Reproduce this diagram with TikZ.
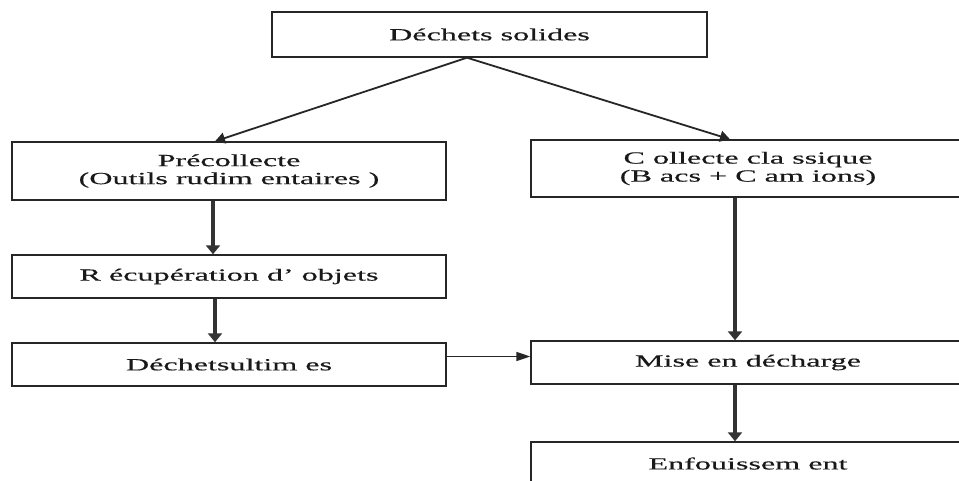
\documentclass[tikz,border=0pt]{standalone}
\usepackage{fontspec}
\setmainfont[FakeStretch=1.89,FakeBold=0.4]{Liberation Serif}
\usetikzlibrary{arrows.meta,calc}
\begin{document}
\begin{tikzpicture}[x=1pt,y=-1pt,
  box/.style={draw=black!85,line width=1.4pt,rectangle,inner sep=0pt,
    align=center,font=\fontsize{17}{18}\selectfont,text=black!90},
  thick arrow/.style={draw=black!80,line width=3.2pt,-{Triangle[width=14pt,length=9pt]}},
  diag arrow/.style={draw=black!85,line width=1.8pt,-{Triangle[width=11pt,length=10pt]}},
  flat arrow/.style={draw=black!85,line width=1.5pt,-{Triangle[width=9pt,length=14pt]}}]
\useasboundingbox (0,0) rectangle (959,480);
\clip (0,0) rectangle (959,480);
\fill[white] (0,0) rectangle (959,480);
\node[box,minimum width=435pt,minimum height=45pt] (top) at (489.5,34.5) {Déchets solides};
\node[box,minimum width=434pt,minimum height=58pt] (pre) at (229,171) {Précollecte\\(Outils rudim entaires )};
\node[box,minimum width=434pt,minimum height=57pt] (col) at (748,168.5) {C ollecte cla ssique\\(B acs + C am ions)};
\node[box,minimum width=434pt,minimum height=43pt] (rec) at (229,276.5) {R écupération d’ objets};
\node[box,minimum width=434pt,minimum height=43pt] (ult) at (229,364.5) {Déchetsultim es};
\node[box,minimum width=434pt,minimum height=43pt] (mise) at (748,362.5) {Mise en décharge};
\node[box,minimum width=434pt,minimum height=43pt] (enf) at (748,463.5) {Enfouissem ent};
\coordinate (split) at ($(top.south)+(-22.5,0)$);
\draw[diag arrow] (split) -- ($(pre.north)+(-14,0)$);
\draw[diag arrow] (split) -- ($(col.north)+(-18,0)$);
\draw[thick arrow] ($(pre.south)+(-16,0)$) -- ($(rec.north)+(-16,0)$);
\draw[thick arrow] ($(rec.south)+(-14,0)$) -- ($(ult.north)+(-14,0)$);
\draw[thick arrow] ($(col.south)+(-13,0)$) -- ($(mise.north)+(-13,0)$);
\draw[thick arrow] ($(mise.south)+(-13,0)$) -- ($(enf.north)+(-13,0)$);
\draw[flat arrow] ($(ult.east)+(0,-8)$) -- ($(mise.west)+(0,-6)$);
\end{tikzpicture}
\end{document}
